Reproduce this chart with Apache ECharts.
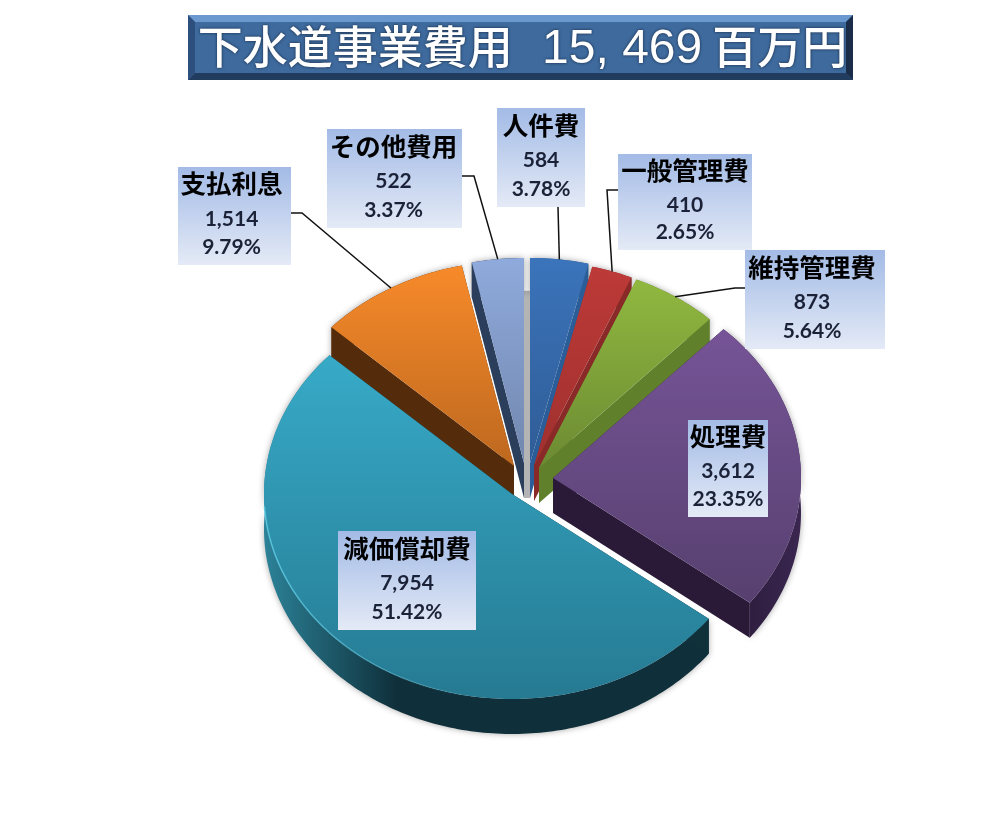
<!DOCTYPE html>
<html><head><meta charset="utf-8">
<script src="https://cdn.jsdelivr.net/npm/echarts@6/dist/echarts.min.js"></script>
<style>html,body{margin:0;background:#fff}#c{width:1000px;height:817px}</style></head>
<body><div id="c"></div>
<script>
// ---- data ----
const categories = ['人件費','一般管理費','維持管理費','処理費','減価償却費','支払利息','その他費用'];
const seriesValues = [584,410,873,3612,7954,1514,522];
const valueLabels = ['584','410','873','3,612','7,954','1,514','522'];
const percentLabels = ['3.78%','2.65%','5.64%','23.35%','51.42%','9.79%','3.37%'];
const titleHead = '下水道事業費用';
const titleNumber = ' 15, 469';
const titleUnit = '百万円';

// ---- pie look ----
const rx = 248, ry = 205, depth = 35;
const pieCentre = [522, 465];
const explode = [[8,-2],[12,1],[17,3],[31,13],[-10,29],[-8,1],[2,-2]];
const topColors = [['#3b74bb','#2f5c96'],['#bd3a38','#9f302e'],['#90b83f','#6c8a33'],['#765497','#57406f'],['#37aac8','#267a92'],['#f78a2a','#bd681f'],['#8faadc','#7187ae']];
const faceColors = ['#2b5e98','#8a2a28','#61802c','#2a1a38','#10303a','#552c0b','#2b3f5d'];
const rimColors = [['#2b5e98','#2b5e98'],['#8a2a28','#8a2a28'],['#61802c','#61802c'],['#2a1a38','#3a2650'],['#2c8298','#0f2f3a'],['#552c0b','#552c0b'],['#2b3f5d','#2b3f5d']];
const drawOrder = [6,5,0,1,2,3,4];

// ---- label layout ----
const labelBoxes = [[497,108,88,99],[618,154,134,96],[745,250,140,99],[688,420,80,97],[338,531,138,99],[178,167,113,98],[327,129,135,99]];
const labelNudge = [0,0,-3,0,0,-3,-1];
const leaderStarts = [[[558,207]],[[618,190],[607,190]],[[745,288],[735,288]],null,null,[[291,213],[302,213]],[[462,176],[474,176]]];

// ---- geometry derived from the values ----
const total = seriesValues.reduce((a,b)=>a+b,0);
const angles = []; { let c = 0; seriesValues.forEach(v=>{ const s=c/total*360; c+=v; angles.push([s,c/total*360]); }); }
const apex = i => [pieCentre[0]+explode[i][0], pieCentre[1]+explode[i][1]];
const pt = (c,deg,r=1) => { const t=deg*Math.PI/180; return [c[0]+rx*r*Math.sin(t), c[1]-ry*r*Math.cos(t)]; };
const down = p => [p[0],p[1]+depth];
const vGrad = (a,b)=>new echarts.graphic.LinearGradient(0,0,0,1,[{offset:0,color:a},{offset:1,color:b}]);
const hGrad = (a,b)=>new echarts.graphic.LinearGradient(0,0,1,0,[{offset:0,color:a},{offset:1,color:b}]);

function renderSlice(params){
  const i = drawOrder[params.dataIndex];
  const c = apex(i), [a0,a1] = angles[i];
  const arc = [];
  for(let d=a0; d<a1; d+=1) arc.push(pt(c,d));
  arc.push(pt(c,a1));
  const children = [];
  if(i===6){ // shaded wall seen through the gap at twelve o'clock
    const c2 = apex(0);
    children.push({type:'polygon',shape:{points:[pt(c,360,0.84),pt(c2,0,0.84),down(c2),down(c)]},style:{fill:'#b4b4b4'}});
  }
  const rimFill = i===4 ? new echarts.graphic.LinearGradient(0,0,1,0,[{offset:0,color:rimColors[i][0]},{offset:0.3,color:rimColors[i][1]},{offset:1,color:rimColors[i][1]}]) : hGrad(rimColors[i][0],rimColors[i][1]);
  children.push({type:'polygon',shape:{points:arc.concat(arc.map(down).reverse())},
    style:{fill:rimFill,shadowBlur:6,shadowColor:'rgba(0,0,0,0.35)'}});
  const e0 = pt(c,a0), e1 = pt(c,a1);
  children.push({type:'polygon',shape:{points:[c,e0,down(e0),down(c)]},style:{fill:faceColors[i]}});
  children.push({type:'polygon',shape:{points:[c,e1,down(e1),down(c)]},style:{fill:faceColors[i]}});
  children.push({type:'polygon',shape:{points:[c].concat(arc)},style:{fill:vGrad(topColors[i][0],topColors[i][1])}});
  if(i===4){ // bright bevel along the rim of the largest slice
    children.push({type:'polyline',shape:{points:arc.slice(60,140)},style:{fill:null,lineWidth:1.5,
      stroke:new echarts.graphic.LinearGradient(1,0,0,0,[{offset:0,color:'rgba(90,200,225,0)'},{offset:1,color:'rgba(90,200,225,0.9)'}])}});
  }
  return {type:'group',children};
}

function renderLabel(params){
  const i = params.dataIndex;
  const [x,y,w,h] = labelBoxes[i];
  const children = [];
  if(leaderStarts[i]){
    const mid = (angles[i][0]+angles[i][1])/2;
    children.push({type:'polyline',shape:{points:leaderStarts[i].concat([pt(apex(i),mid)])},style:{stroke:'#111',lineWidth:1.5,fill:null}});
  }
  children.push({type:'rect',shape:{x,y,width:w,height:h},style:{fill:vGrad('#a3bbe6','#e4eaf6')}});
  const mx = x+w/2+labelNudge[i];
  children.push({type:'text',style:{x:mx,y:y+h*0.17,text:categories[i],font:'bold 25.5px "Noto Sans CJK JP"',fill:'#000',align:'center',verticalAlign:'middle'}});
  children.push({type:'text',style:{x:mx,y:y+h*0.53,text:valueLabels[i],font:'bold 21px Lato',fill:'#1b2238',align:'center',verticalAlign:'middle'}});
  children.push({type:'text',style:{x:mx,y:y+h*0.82,text:percentLabels[i],font:'bold 21px Lato',fill:'#1b2238',align:'center',verticalAlign:'middle'}});
  return {type:'group',children};
}

const chart = echarts.init(document.getElementById('c'),null,{renderer:'canvas'});
const T = {x:188,y:15,w:665,h:65,b:7};
chart.setOption({
  animation:false,
  backgroundColor:'#fff',
  graphic:[
    {type:'rect',shape:{x:T.x,y:T.y,width:T.w,height:T.h},style:{fill:'#3e6a9d'}},
    {type:'polygon',shape:{points:[[T.x,T.y],[T.x+T.w,T.y],[T.x+T.w-T.b,T.y+T.b],[T.x+T.b,T.y+T.b]]},style:{fill:'#6a98cf'}},
    {type:'polygon',shape:{points:[[T.x,T.y+T.h],[T.x+T.w,T.y+T.h],[T.x+T.w-T.b,T.y+T.h-T.b],[T.x+T.b,T.y+T.h-T.b]]},style:{fill:'#223c60'}},
    {type:'polygon',shape:{points:[[T.x,T.y],[T.x+T.b,T.y+T.b],[T.x+T.b,T.y+T.h-T.b],[T.x,T.y+T.h]]},style:{fill:'#2d4f7d'}},
    {type:'polygon',shape:{points:[[T.x+T.w,T.y],[T.x+T.w-T.b,T.y+T.b],[T.x+T.w-T.b,T.y+T.h-T.b],[T.x+T.w,T.y+T.h]]},style:{fill:'#1a2c48'}},
    {type:'text',style:{x:T.x+T.w/2+2,y:T.y+T.h/2-1,align:'center',verticalAlign:'middle',
      text:'{c|'+titleHead+'}{n|'+titleNumber+'}{c|'+titleUnit+'}',
      rich:{c:{font:'500 45px "Noto Sans CJK JP"',fill:'#fff',textShadowBlur:3,textShadowColor:'#16263f'},
            n:{font:'48px "Liberation Sans"',fill:'#fff',padding:[7,10,0,16],textShadowBlur:3,textShadowColor:'#16263f'}}}}
  ],
  series:[
    {type:'custom',coordinateSystem:'none',renderItem:renderSlice,silent:true,z:1,
     data:drawOrder.map(i=>({name:categories[i],value:seriesValues[i]}))},
    {type:'custom',coordinateSystem:'none',renderItem:renderLabel,silent:true,z:2,
     data:categories.map((n,i)=>({name:n,value:seriesValues[i]}))}
  ]
});
</script></body></html>
